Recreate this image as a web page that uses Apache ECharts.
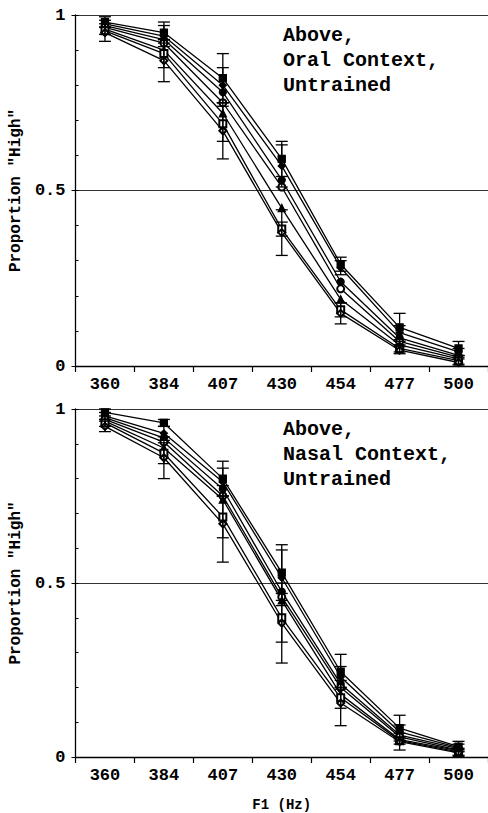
<!DOCTYPE html>
<html><head><meta charset="utf-8">
<script src="https://cdn.jsdelivr.net/npm/echarts@6/dist/echarts.min.js"></script>
<style>html,body{margin:0;padding:0;background:#fff}#c{width:488px;height:813px}</style>
</head><body><div id="c"></div>
<script>
const categories = ['360','384','407','430','454','477','500'];
const yTicks = [0, 0.5, 1];

// Top panel: Above, Oral Context, Untrained
const oral1 = [0.98, 0.95, 0.82, 0.59, 0.29, 0.11, 0.05];
const oral2 = [0.975, 0.94, 0.80, 0.57, 0.28, 0.095, 0.04];
const oral3 = [0.97, 0.93, 0.78, 0.53, 0.24, 0.08, 0.03];
const oral4 = [0.965, 0.92, 0.75, 0.51, 0.22, 0.07, 0.025];
const oral5 = [0.96, 0.90, 0.72, 0.45, 0.19, 0.06, 0.02];
const oral6 = [0.955, 0.89, 0.69, 0.39, 0.16, 0.05, 0.015];
const oral7 = [0.95, 0.87, 0.67, 0.38, 0.15, 0.045, 0.01];
const oralErr1 = [0.015, 0.03, 0.07, 0.05, 0.02, 0.04, 0.02];
const oralErr2 = [0.01, 0.03, 0.05, 0.06, 0.02, 0.02, 0.01];
const oralErr6 = [0.01, 0.04, 0.05, 0.02, 0.02, 0.01, 0.01];
const oralErr7 = [0.025, 0.06, 0.08, 0.065, 0.03, 0.01, 0.01];

// Bottom panel: Above, Nasal Context, Untrained
const nasal1 = [0.99, 0.96, 0.80, 0.53, 0.245, 0.083, 0.03];
const nasal2 = [0.98, 0.93, 0.79, 0.515, 0.23, 0.072, 0.027];
const nasal3 = [0.975, 0.917, 0.77, 0.475, 0.21, 0.063, 0.024];
const nasal4 = [0.97, 0.905, 0.75, 0.46, 0.20, 0.058, 0.02];
const nasal5 = [0.965, 0.888, 0.74, 0.45, 0.18, 0.05, 0.018];
const nasal6 = [0.96, 0.873, 0.69, 0.40, 0.17, 0.047, 0.015];
const nasal7 = [0.95, 0.86, 0.67, 0.385, 0.155, 0.044, 0.012];
const nasalErr1 = [0.01, 0.01, 0.05, 0.08, 0.05, 0.037, 0.015];
const nasalErr2 = [0.01, 0.02, 0.04, 0.08, 0.03, 0.02, 0.01];
const nasalErr6 = [0.01, 0.03, 0.06, 0.07, 0.03, 0.01, 0.01];
const nasalErr7 = [0.015, 0.06, 0.11, 0.115, 0.065, 0.024, 0.01];

const symbols = ['rect','diamond','circle','emptyCircle','triangle','emptyRect','emptyDiamond'];
const FONT = '"Liberation Mono", "DejaVu Sans Mono", monospace';

function lineSeries(data, i, gi) {
  return {
    type: 'line', xAxisIndex: gi, yAxisIndex: gi * 2, data: data,
    symbol: symbols[i], symbolSize: 7, showSymbol: true,
    lineStyle: { color: '#000', width: 1.3 },
    itemStyle: { color: '#000', borderColor: '#000', borderWidth: 1.3 },
    z: 3, silent: true
  };
}
function errSeries(vals, errs, gi) {
  const d = vals.map((v, i) => [i, v - errs[i], v + errs[i]]);
  return {
    type: 'custom', xAxisIndex: gi, yAxisIndex: gi * 2, data: d, z: 4, silent: true,
    renderItem: function (params, api) {
      const lo = api.coord([api.value(0), api.value(1)]);
      const hi = api.coord([api.value(0), api.value(2)]);
      const w = 6;
      const st = { stroke: '#000', lineWidth: 1.3 };
      return { type: 'group', children: [
        { type: 'line', shape: { x1: lo[0], y1: lo[1], x2: hi[0], y2: hi[1] }, style: st },
        { type: 'line', shape: { x1: lo[0] - w, y1: lo[1], x2: lo[0] + w, y2: lo[1] }, style: st },
        { type: 'line', shape: { x1: hi[0] - w, y1: hi[1], x2: hi[0] + w, y2: hi[1] }, style: st }
      ]};
    }
  };
}

const grids = [
  { left: 74, top: 15, width: 420, height: 351 },
  { left: 74, top: 409, width: 420, height: 348 }
];
const xAxes = grids.map((g, gi) => ({
  type: 'category', gridIndex: gi, data: categories, boundaryGap: true,
  axisLine: { lineStyle: { color: '#000', width: 1.3 } },
  axisTick: { show: true, length: 6, lineStyle: { color: '#000', width: 1.2 } },
  axisLabel: { color: '#000', fontFamily: FONT, fontSize: 17, fontWeight: 'bold', margin: 10 },
  name: gi === 1 ? 'F1 (Hz)' : '', nameLocation: 'middle', nameGap: 41,
  nameTextStyle: { color: '#000', fontFamily: FONT, fontSize: 14, fontWeight: 'bold' }
}));
const yAxes = [];
grids.forEach((g, gi) => {
  yAxes.push({
    type: 'value', gridIndex: gi, min: 0, max: 1, interval: 0.5,
    axisLine: { show: true, lineStyle: { color: '#000', width: 1.3 } },
    axisTick: { show: true, length: 4, lineStyle: { color: '#000' } },
    axisLabel: { color: '#000', fontFamily: FONT, fontSize: 17, fontWeight: 'bold', margin: 10,
      formatter: v => yTicks.includes(v) ? String(v) : '' },
    splitLine: { show: true, lineStyle: { color: '#333', width: 1 } },
    name: 'Proportion "High"', nameLocation: 'middle', nameGap: 43,
    nameTextStyle: { color: '#000', fontFamily: FONT, fontSize: 16, fontWeight: 'bold' }
  });
  yAxes.push({
    type: 'value', gridIndex: gi, min: 0, max: 1, interval: 0.1, position: 'left',
    axisLine: { show: false }, axisLabel: { show: false }, splitLine: { show: false },
    axisTick: { show: true, inside: true, length: 3, lineStyle: { color: '#000' } }
  });
});

const series = [];
[oral1, oral2, oral3, oral4, oral5, oral6, oral7].forEach((d, i) => series.push(lineSeries(d, i, 0)));
[nasal1, nasal2, nasal3, nasal4, nasal5, nasal6, nasal7].forEach((d, i) => series.push(lineSeries(d, i, 1)));
series.push(errSeries(oral1, oralErr1, 0), errSeries(oral2, oralErr2, 0), errSeries(oral6, oralErr6, 0), errSeries(oral7, oralErr7, 0));
series.push(errSeries(nasal1, nasalErr1, 1), errSeries(nasal2, nasalErr2, 1), errSeries(nasal6, nasalErr6, 1), errSeries(nasal7, nasalErr7, 1));

const chart = echarts.init(document.getElementById('c'), null, { renderer: 'svg' });
chart.setOption({
  animation: false,
  grid: grids, xAxis: xAxes, yAxis: yAxes, series: series,
  graphic: [
    { type: 'text', left: 283, top: 23, style: { text: 'Above,\nOral Context,\nUntrained', font: 'bold 20px ' + FONT, fill: '#000', lineHeight: 25 } },
    { type: 'text', left: 283, top: 417, style: { text: 'Above,\nNasal Context,\nUntrained', font: 'bold 20px ' + FONT, fill: '#000', lineHeight: 25 } }
  ]
});
</script></body></html>
